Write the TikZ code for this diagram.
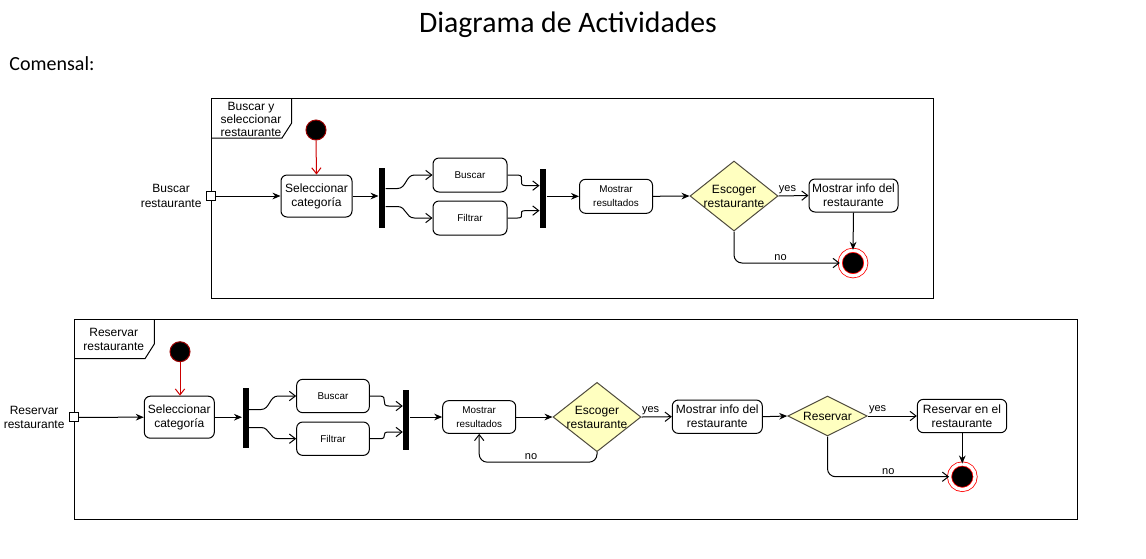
\documentclass[tikz,border=0pt]{standalone}
\usepackage{fontspec}
\setmainfont{Liberation Sans}
\newfontfamily\titlefont{Carlito}
\usetikzlibrary{shapes.geometric, arrows.meta, calc}

\definecolor{decfill}{HTML}{FFFFC0}
\tikzset{
  activity/.style={draw, fill=white, rounded corners=4.5pt, align=center, inner sep=1pt,
    font=\fontsize{9}{10.5}\selectfont},
  smalltext/.style={font=\fontsize{7.4}{10.5}\selectfont},
  bar/.style={fill=black, minimum width=4.5pt, inner sep=0pt},
  decision/.style={diamond, draw=black!80!yellow, fill=decfill, inner sep=0pt},
  initial/.style={circle, fill=black, draw=red!60!black, minimum size=15pt, inner sep=0pt},
  final/.style={circle, fill=black, draw=red, double=white, double distance=2.5pt,
    line width=0.6pt, minimum size=19.2pt, inner sep=0pt},
  pin/.style={draw, fill=white, minimum size=6.75pt, inner sep=0pt},
  pinlabel/.style={align=center, inner sep=0pt, label distance=3pt, font=\fontsize{9}{11}\selectfont},
  flow/.style={-{Stealth[length=6pt,width=5pt]}},
  barb/.style={-{Straight Barb[length=4.5pt,width=7pt]}},
  guard/.style={font=\fontsize{8.25}{9}\selectfont, inner sep=1.5pt}
}

\begin{document}
\begin{tikzpicture}[x=0.75pt, y=-0.75pt, line width=0.75pt]
\useasboundingbox (0,0) rectangle (1146,558);

\node (title) at (568,25) {\titlefont\fontsize{22.3}{26}\selectfont Diagrama de Actividades};
\node[anchor=west, inner sep=0pt] (actor) at (9,64) {\titlefont\fontsize{15}{18}\selectfont Comensal:};

% Buscar y seleccionar restaurante
\draw (211,98) rectangle (933,298);
\draw (211,138) -- (282,138) -- (291.7,123) -- (291.7,98);
\node[align=center, inner sep=0pt, font=\fontsize{9}{10}\selectfont] (frame1) at (251,119.5) {Buscar y\\seleccionar\\restaurante};

\node[pin, label={[pinlabel]left:Buscar\\restaurante}] (port1) at (211,196) {};
\node[initial] (start1) at (316,130) {};
\node[activity, minimum width=53.25pt, minimum height=31.5pt] (sel1) at (316.5,196) {Seleccionar\\categoría};
\node[bar, minimum height=45pt] (fork1) at (382,197.5) {};
\node[activity, smalltext, minimum width=55.5pt, minimum height=25.5pt] (bus1) at (470,175) {Buscar};
\node[activity, smalltext, minimum width=55.5pt, minimum height=25.5pt] (fil1) at (470,218) {Filtrar};
\node[bar, minimum height=44.5pt] (join1) at (543,198.6) {};
\node[activity, smalltext, minimum width=54.75pt, minimum height=25.5pt] (mos1) at (616,196.3) {Mostrar\\resultados};
\node[decision, minimum width=66pt, minimum height=52.5pt,
  label={[align=center, font=\fontsize{9}{10.5}\selectfont]center:Escoger\\restaurante}] (dia1) at (734,196) {};
\node[activity, minimum width=66.75pt, minimum height=24.75pt] (info1) at (853.5,195.5) {Mostrar info del\\restaurante};
\node[final] (end1) at (853,263) {};

\draw[flow] (port1.east) -- (sel1.west);
\draw[barb, red!80!black] (start1.south) -- (sel1.north);
\draw[flow] (sel1.east) -- (sel1.east -| fork1.west);
\draw[barb] ($(fork1.east)+(0,-9)$) -- ++(12,0) .. controls +(9,0) and +(-9,0) .. ($(bus1.west)+(-18,0)$) -- (bus1.west);
\draw[barb] ($(fork1.east)+(0,9)$) -- ++(12,0) .. controls +(9,0) and +(-9,0) .. ($(fil1.west)+(-18,0)$) -- (fil1.west);
\draw[barb] (bus1.east) -- ++(10,0) .. controls +(9,0) and +(-9,0) .. ($(join1.west)+(-14,-13)$) -- ($(join1.west)+(0,-13)$);
\draw[barb] (fil1.east) -- ++(10,0) .. controls +(9,0) and +(-9,0) .. ($(join1.west)+(-14,12)$) -- ($(join1.west)+(0,12)$);
\draw[flow] (join1.east |- mos1.west) -- (mos1.west);
\draw[flow] (mos1.east) -- (dia1.west);
\draw[barb] (dia1.east) -- node[guard, above, pos=0.3] {yes} (info1.west);
\draw[flow] (info1.south) -- (end1.north);
\draw[barb, rounded corners=6pt] (dia1.south) |- node[guard, above, pos=0.72] {no} (end1.west);

% Reservar restaurante
\draw (74,319.7) rectangle (1077,519);
\draw (74,358.7) -- (145,358.7) -- (154.3,344) -- (154.3,319.7);
\node[align=center, inner sep=0pt, font=\fontsize{9}{11}\selectfont] (frame2) at (113.7,339.5) {Reservar\\restaurante};

\node[pin, label={[pinlabel]left:Reservar\\restaurante}] (port2) at (74,417.3) {};
\node[initial] (start2) at (180,351.7) {};
\node[activity, minimum width=52.5pt, minimum height=31.5pt] (sel2) at (179.3,417.2) {Seleccionar\\categoría};
\node[bar, minimum height=44.5pt] (fork2) at (245.5,418) {};
\node[activity, smalltext, minimum width=54.5pt, minimum height=25pt] (bus2) at (333,396) {Buscar};
\node[activity, smalltext, minimum width=54.5pt, minimum height=25pt] (fil2) at (333,438.7) {Filtrar};
\node[bar, minimum height=45pt] (join2) at (406.3,420) {};
\node[activity, smalltext, minimum width=54.75pt, minimum height=24.5pt] (mos2) at (479.2,417) {Mostrar\\resultados};
\node[decision, minimum width=66pt, minimum height=52pt,
  label={[align=center, font=\fontsize{9}{10.5}\selectfont]center:Escoger\\restaurante}] (dia2) at (597,417) {};
\node[activity, minimum width=67.5pt, minimum height=25pt] (info2) at (717.3,416.7) {Mostrar info del\\restaurante};
\node[decision, minimum width=59.7pt, minimum height=30pt,
  label={[font=\fontsize{9}{10.5}\selectfont]center:Reservar}] (dia3) at (827.5,416) {};
\node[activity, minimum width=67pt, minimum height=25pt] (res2) at (962,416) {Reservar en el\\restaurante};
\node[final] (end2) at (962.3,476.7) {};

\draw[flow] (port2.east) -- (sel2.west);
\draw[barb, red!80!black] (start2.south) -- (start2.south |- sel2.north);
\draw[flow] (sel2.east) -- (sel2.east -| fork2.west);
\draw[barb] ($(fork2.east)+(0,-8.5)$) -- ++(12,0) .. controls +(9,0) and +(-9,0) .. ($(bus2.west)+(-18,0)$) -- (bus2.west);
\draw[barb] ($(fork2.east)+(0,9.5)$) -- ++(12,0) .. controls +(9,0) and +(-9,0) .. ($(fil2.west)+(-18,0)$) -- (fil2.west);
\draw[barb] (bus2.east) -- ++(10,0) .. controls +(9,0) and +(-9,0) .. ($(join2.west)+(-14,-14)$) -- ($(join2.west)+(0,-14)$);
\draw[barb] (fil2.east) -- ++(10,0) .. controls +(9,0) and +(-9,0) .. ($(join2.west)+(-14,12)$) -- ($(join2.west)+(0,12)$);
\draw[flow] (join2.east |- mos2.west) -- (mos2.west);
\draw[flow] (mos2.east) -- (dia2.west);
\draw[barb] (dia2.east) -- node[guard, above, pos=0.3] {yes} (info2.west);
\draw[barb, rounded corners=6pt] (dia2.south) -- ++(0,10) -| node[guard, above, pos=0.28] {no} (mos2.south);
\draw[flow] (info2.east) -- (dia3.west);
\draw[barb] (dia3.east) -- node[guard, above, pos=0.2] {yes} (res2.west);
\draw[flow] (res2.south -| end2.north) -- (end2.north);
\draw[barb, rounded corners=6pt] (dia3.south) |- node[guard, above, pos=0.75] {no} (end2.west);
\end{tikzpicture}
\end{document}
